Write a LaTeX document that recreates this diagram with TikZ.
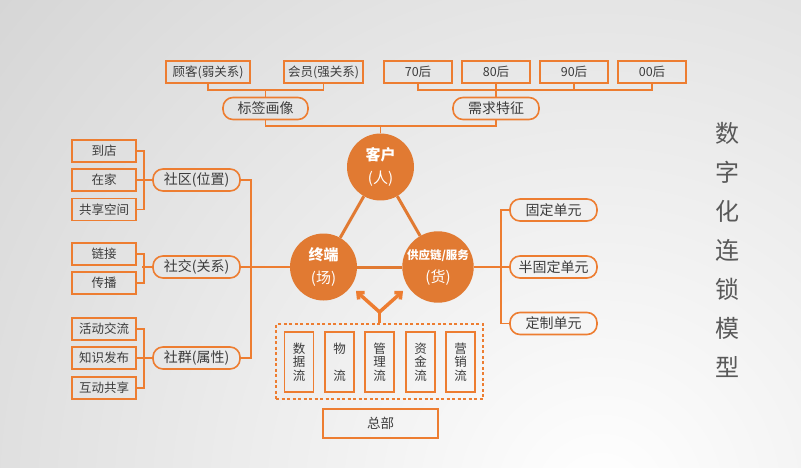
\documentclass[tikz,border=0pt]{standalone}
\usepackage{fontspec}
\setmainfont{Noto Sans CJK SC}
\usetikzlibrary{arrows.meta}
\definecolor{org}{HTML}{ED7D31}
\definecolor{orgfill}{HTML}{E17A32}
\definecolor{txt}{HTML}{3C3C3C}
\definecolor{bgout}{HTML}{D4D4D4}
\begin{document}
\begin{tikzpicture}[x=1pt,y=-1pt,
  sbox/.style={draw=org,line width=1.6pt,rectangle,minimum height=22pt,inner sep=0pt,text=txt,font=\fontsize{12.5}{14}\selectfont},
  rbox/.style={draw=org,line width=1.6pt,rectangle,rounded corners=10pt,minimum height=22pt,inner sep=0pt,text=txt,font=\fontsize{14}{16}\selectfont},
  circ/.style={circle,fill=orgfill,minimum size=67pt,inner sep=0pt,text=white,align=center,font=\fontsize{15}{23}\selectfont},
  tall/.style={draw=org,line width=1.6pt,rectangle,minimum width=29pt,minimum height=60pt,inner sep=0pt,text=txt,align=center,font=\fontsize{12.5}{13.5}\selectfont},
  conn/.style={draw=org,line width=1.6pt},
  tri/.style={draw=orgfill,line width=3pt},
  yarr/.style={draw=org,line width=3.5pt,-{Straight Barb[length=5pt,width=9pt]}}]
\useasboundingbox (0,0) rectangle (801,468);
\begin{scope}
\clip (0,0) rectangle (801,468);
\shade[inner color=white,outer color=bgout] (600,500) circle (820);
\end{scope}

% top boxes
\node[sbox,minimum width=84pt] (gk) at (208,72) {顾客(弱关系)};
\node[sbox,minimum width=79pt] (hy) at (323.5,72) {会员(强关系)};
\node[sbox,minimum width=68pt] (s70) at (418,72) {70后};
\node[sbox,minimum width=68pt] (s80) at (496,72) {80后};
\node[sbox,minimum width=68pt] (s90) at (574,72) {90后};
\node[sbox,minimum width=68pt] (s00) at (652,72) {00后};
\node[rbox,minimum width=85pt] (bq) at (265.5,108.5) {标签画像};
\node[rbox,minimum width=86pt] (xq) at (496,108.5) {需求特征};

% circles
\node[circ] (kh) at (380.5,167) {\bfseries 客户\\(人)};
\node[circ] (zd) at (323.5,267) {\bfseries 终端\\(场)};
\node[circ] (gy) at (438,267) {{\fontsize{11.5}{23}\selectfont\bfseries 供应链/服务}\\(货)};

% top connectors
\coordinate (j1) at (265.5,90);
\coordinate (j2) at (496,90);
\coordinate (j3) at (380.5,126);
\draw[conn] (gk.south) |- (j1) -| (hy.south);
\draw[conn] (bq.north) -- (j1);
\draw[conn] (s70.south) |- (j2) -| (s00.south);
\draw[conn] (s80.south) -- (xq.north);
\draw[conn] (s90.south) -- (s90.south |- j2);
\draw[conn] (bq.south) |- (j3) -| (xq.south);
\draw[conn] (j3) -- (kh.north);

% triangle
\draw[tri] (kh) -- (zd);
\draw[tri] (kh) -- (gy);
\draw[tri] (zd) -- (gy);

% left tree
\node[sbox,minimum width=64pt] (dd) at (104,151) {到店};
\node[sbox,minimum width=64pt] (zj) at (104,180) {在家};
\node[sbox,minimum width=64pt] (gx) at (104,209.5) {共享空间};
\node[rbox,minimum width=87pt] (sq) at (196.5,180) {社区(位置)};
\node[sbox,minimum width=64pt] (lj) at (104,254) {链接};
\node[sbox,minimum width=64pt] (cb) at (104,283) {传播};
\node[rbox,minimum width=87pt] (sj) at (196.5,267) {社交(关系)};
\node[sbox,minimum width=64pt] (hd) at (104,329) {活动交流};
\node[sbox,minimum width=64pt] (zs) at (104,358) {知识发布};
\node[sbox,minimum width=64pt] (hx) at (104,388) {互动共享};
\node[rbox,minimum width=87pt] (sg) at (196.5,358) {社群(属性)};

\draw[conn] (dd.east) -- ++(7,0) |- (gx.east);
\draw[conn] (zj.east) -- (sq.west);
\draw[conn] (lj.east) -- ++(7,0) |- (cb.east);
\draw[conn] (sj.west) -- ++(-10,0);
\draw[conn] (hd.east) -- ++(7,0) |- (hx.east);
\draw[conn] (zs.east) -- (sg.west);
\draw[conn] (sq.east) -- ++(10,0) |- (sg.east);
\draw[conn] (sj.east) -- (zd.west);

% right tree
\node[rbox,minimum width=87pt] (gd) at (553.5,210) {固定单元};
\node[rbox,minimum width=87pt] (bg) at (553.5,267) {半固定单元};
\node[rbox,minimum width=87pt] (dz) at (553.5,323.5) {定制单元};
\draw[conn] (gy.east) -- (bg.west);
\draw[conn] (gd.west) -- ++(-8,0) |- (dz.west);

% bottom group
\node[draw=org,line width=1.5pt,dash pattern=on 3pt off 2.5pt,rectangle,minimum width=207pt,minimum height=75pt,inner sep=0pt] (grp) at (379.5,361.5) {};
\node[tall] (f1) at (299,362) {数\\据\\流};
\node[tall] (f2) at (339.5,362) {物\\\mbox{}\\流};
\node[tall] (f3) at (379.5,362) {管\\理\\流};
\node[tall] (f4) at (420.5,362) {资\\金\\流};
\node[tall] (f5) at (460.5,362) {营\\销\\流};
\node[sbox,minimum width=115pt,minimum height=29pt,font=\fontsize{13.5}{15}\selectfont] (zb) at (380.5,423.5) {总部};

% Y arrow
\coordinate (ys) at (379.5,312);
\coordinate (ya) at (356,291);
\coordinate (yb) at (403,291);
\draw[org,line width=3.5pt] (grp.north) -- (ys);
\draw[yarr] (ys) -- (ya);
\draw[yarr] (ys) -- (yb);

% title
\node[text=txt!85,align=center,font=\fontsize{24}{39}\selectfont] (title) at (727,249.5) {数\\字\\化\\连\\锁\\模\\型};
\end{tikzpicture}
\end{document}
